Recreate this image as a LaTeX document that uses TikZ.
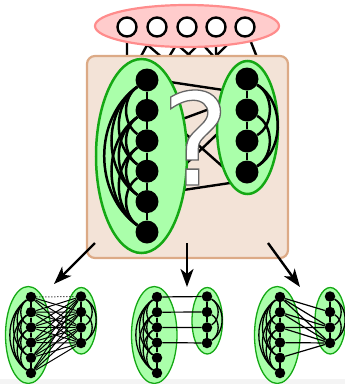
\documentclass[tikz,border=0pt]{standalone}
\usepackage{fontspec}
\newfontfamily\qfont{DejaVu Sans}
\usetikzlibrary{arrows.meta}
\definecolor{pinkfill}{HTML}{FFCCCC}
\definecolor{pinkline}{HTML}{FF8C8C}
\definecolor{boxfill}{HTML}{F3E3D7}
\definecolor{boxline}{HTML}{DCAA86}
\definecolor{grfill}{HTML}{AAFFAA}
\definecolor{grline}{HTML}{14A814}
\definecolor{stripgray}{HTML}{F4F4F4}
\pgfdeclarelayer{bg}
\pgfdeclarelayer{lines}
\pgfdeclarelayer{ell}
\pgfdeclarelayer{fg}
\pgfsetlayers{bg,lines,ell,main,fg}
\tikzset{
  vtx/.style={circle, fill=black, draw=none, inner sep=0pt},
  tcirc/.style={circle, draw=black, fill=white, line width=2.4pt, minimum size=19pt, inner sep=0pt},
  clell/.style={draw=grline, fill=grfill},
  bigarrow/.style={line width=2.4pt, -{Stealth[length=18pt,width=13pt,inset=5pt]}},
  qmark/.style={inner sep=0pt, anchor=base, text=white, font=\qfont\fontsize{128}{128}\selectfont}
}
% #1 prefix, #2 x, #3 y of first left node, #4 scale, #5 node size, #6 line width
\newcommand\clgraph[6]{%
\begin{scope}[shift={(#2,#3)}, scale=#4]
  \foreach \i/\yy in {1/0,2/-30.4,3/-60.8,4/-91.2,5/-121.6,6/-152}
    \node[vtx, minimum size=#5] (#1L\i) at (0,\yy) {};
  \foreach \i/\yy in {1/1,2/-30,3/-61,4/-92}
    \node[vtx, minimum size=#5] (#1R\i) at (100,\yy) {};
  \begin{pgfonlayer}{ell}
    \draw[clell, line width=#6] (-5.5,-76) ellipse [x radius=45.5, y radius=97];
    \draw[clell, line width=#6] (100.5,-47.5) ellipse [x radius=30.5, y radius=66.5];
  \end{pgfonlayer}
  \draw[line width=#6] (#1L1) -- (#1L2) -- (#1L3) -- (#1L4) -- (#1L5) -- (#1L6);
  \foreach \i/\j in {1/3,1/4,1/5,1/6,2/4,2/5,2/6,3/5,3/6,4/6}
    \draw[line width=#6] (#1L\i) to[bend right=55] (#1L\j);
  \draw[line width=#6] (#1R1) -- (#1R2) -- (#1R3) -- (#1R4);
  \foreach \i/\j in {1/3,1/4,2/4}
    \draw[line width=#6] (#1R\i) to[bend left=60] (#1R\j);
\end{scope}}
\begin{document}
\begin{tikzpicture}[x=1pt,y=1pt]
\useasboundingbox (0,0) rectangle (345,-384);
\begin{pgfonlayer}{bg}
  \fill[stripgray] (0,-379) rectangle (345,-384);
  % top nodes and their lines into the box
  \foreach \k/\xx in {1/127,2/157,3/187,4/216,5/245}
    \coordinate (tc\k) at (\xx,-27);
  \foreach \n/\xx in {1/127,2/117,3/211,4/143,5/241,6/143,7/253,8/172,9/274,10/216}
    \coordinate (h\n) at (\xx,-100);
  \draw[line width=2.4pt] (tc1) -- (h1) (tc2) -- (h2) (tc1) -- (h3) (tc3) -- (h4)
    (tc2) -- (h5) (tc4) -- (h6) (tc3) -- (h7) (tc5) -- (h8) (tc5) -- (h9) (tc4) -- (h10);
  \draw[pinkline, fill=pinkfill, line width=2.2pt] (187,-26) ellipse [x radius=92, y radius=21];
  \foreach \k in {1,...,5}
    \node[tcirc] (t\k) at (tc\k) {};
  \node[draw=boxline, fill=boxfill, line width=2.2pt, rounded corners=8pt,
        minimum width=201pt, minimum height=202pt, inner sep=0pt] (box) at (187.5,-157) {};
\end{pgfonlayer}
% main graph
\clgraph{m}{147}{-80}{1}{23pt}{2.5pt}
\begin{pgfonlayer}{lines}
  \coordinate (pa1) at (150,-79);  \coordinate (pa2) at (250,-94);
  \coordinate (pb1) at (150,-131); \coordinate (pb2) at (250,-94);
  \coordinate (pc1) at (170,-120); \coordinate (pc2) at (240,-182);
  \coordinate (pd1) at (165,-184); \coordinate (pd2) at (235,-117);
  \coordinate (pe1) at (150,-195); \coordinate (pe2) at (250,-180);
  \draw[line width=2.4pt] (pa1) -- (pa2) (pb1) -- (pb2) (pc1) -- (pc2) (pd1) -- (pd2) (pe1) -- (pe2);
\end{pgfonlayer}
% question mark: white glyph with grey outline (PDF text render mode 2)
\begin{pgfonlayer}{fg}
  \node[qmark] (q) at (195.5,-185) {\special{pdf:code 0.4 G 1.3 w 2 Tr}?\special{pdf:code 0 Tr}};
\end{pgfonlayer}
% arrows
\coordinate (s1) at (95,-243);  \coordinate (e1) at (54,-284);
\coordinate (s2) at (187,-243); \coordinate (e2) at (187,-287);
\coordinate (s3) at (268,-243); \coordinate (e3) at (300,-287);
\draw[bigarrow] (s1) -- (e1);
\draw[bigarrow] (s2) -- (e2);
\draw[bigarrow] (s3) -- (e3);
% bottom graphs
\clgraph{a}{31}{-297}{0.5}{10.5pt}{1.3pt}
\clgraph{b}{157}{-297}{0.5}{10.5pt}{1.3pt}
\clgraph{c}{280}{-297}{0.5}{10.5pt}{1.3pt}
% bottom-left: complete bipartite, top pair dotted
\foreach \i/\j in {1/2,1/3,1/4,2/1,2/2,2/3,2/4,3/1,3/2,3/3,3/4,4/1,4/2,4/3,4/4,5/1,5/2,5/3,5/4,6/1,6/2,6/3,6/4}
  \draw[line width=1pt] (aL\i) -- (aR\j);
\draw[line width=1pt, dotted] (aL1) -- (aR1);
% bottom-middle: matching
\foreach \i in {1,...,4}
  \draw[line width=1.2pt] (bL\i) -- (bR\i);
% bottom-right
\foreach \i/\j in {1/2,1/3,1/4,2/3,2/4,3/3,3/4,4/4,5/4}
  \draw[line width=1.2pt] (cL\i) -- (cR\j);
\end{tikzpicture}
\end{document}
